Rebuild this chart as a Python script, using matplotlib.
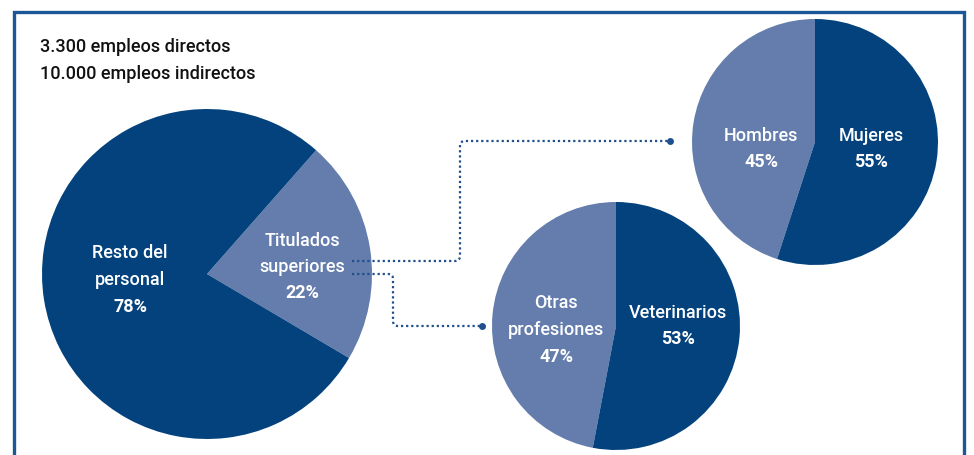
import matplotlib.pyplot as plt
from matplotlib.path import Path
from matplotlib.patches import PathPatch

W, H = 974, 456

dark = '#03427d'
light = '#647dac'
border = '#1b5796'
line_col = '#1f4f8c'

plt.rcParams['font.family'] = ['Roboto', 'DejaVu Sans']

header = ['3.300 empleos directos', '10.000 empleos indirectos']

main_labels = ['Titulados\nsuperiores', 'Resto del\npersonal']
main_values = [22, 78]

prof_labels = ['Otras\nprofesiones', 'Veterinarios']
prof_values = [47, 53]

sex_labels = ['Hombres', 'Mujeres']
sex_values = [45, 55]

fig = plt.figure(figsize=(W / 100, H / 100), dpi=100)
ax = fig.add_axes([0, 0, 1, 1])


def Y(y):
    # image row -> data y
    return H - y


ax.pie(main_values, colors=[light, dark], startangle=-30.6, center=(207, Y(275)),
       radius=165, wedgeprops=dict(linewidth=0), frame=True)
ax.pie(prof_values, colors=[light, dark], startangle=90, center=(616, Y(327)),
       radius=124, wedgeprops=dict(linewidth=0), frame=True)
ax.pie(sex_values, colors=[light, dark], startangle=90, center=(815, Y(143)),
       radius=123, wedgeprops=dict(linewidth=0), frame=True)
ax.set_xlim(0, W)
ax.set_ylim(0, H)
ax.set_aspect('equal')
ax.axis('off')

# border (open at the bottom)
ax.plot([14, 14, 964, 964], [Y(460), Y(13), Y(13), Y(460)], color=border, lw=2.4,
        solid_joinstyle='miter', clip_on=False)


def label(x, yc, name, value, size=13, gap=26.5):
    lines = name.split('\n')
    n = len(lines) + 1
    for i, t in enumerate(lines):
        ax.text(x, Y(yc + (i - (n - 1) / 2) * gap), t, color='white', ha='center',
                va='center', fontsize=size, fontweight='medium')
    ax.text(x, Y(yc + ((n - 1) / 2) * gap), f'{value}%', color='white', ha='center',
            va='center', fontsize=size, fontweight='bold')


label(130, 280, main_labels[1], main_values[1])
label(302, 267, main_labels[0], main_values[0])
label(556, 330, prof_labels[0], prof_values[0])
label(678, 326, prof_labels[1], prof_values[1])
label(761, 149, sex_labels[0], sex_values[0])
label(871, 149, sex_labels[1], sex_values[1])

for i, t in enumerate(header):
    ax.text(40, Y(47 + i * 27), t, color='#111111', ha='left', va='center',
            fontsize=13, fontweight='medium')


def connector(pts, r=5):
    # polyline with small rounded corners
    verts = [pts[0]]
    codes = [Path.MOVETO]
    for k in range(1, len(pts) - 1):
        (x0, y0), (x1, y1), (x2, y2) = pts[k - 1], pts[k], pts[k + 1]
        d0 = abs(x1 - x0) + abs(y1 - y0)
        d1 = abs(x2 - x1) + abs(y2 - y1)
        verts += [(x1 - (x1 - x0) / d0 * r, y1 - (y1 - y0) / d0 * r), (x1, y1),
                  (x1 + (x2 - x1) / d1 * r, y1 + (y2 - y1) / d1 * r)]
        codes += [Path.LINETO, Path.CURVE3, Path.CURVE3]
    verts.append(pts[-1])
    codes.append(Path.LINETO)
    ax.add_patch(PathPatch(Path(verts, codes), fill=False, edgecolor=line_col, lw=1.6,
                           linestyle=(0, (1, 1.3))))
    ax.plot(*pts[-1], 'o', color=line_col, ms=5, mec='none')


connector([(352, Y(262)), (460, Y(262)), (460, Y(142)), (670, Y(142))])
connector([(352, Y(275)), (393, Y(275)), (393, Y(327)), (482, Y(327))])

fig.savefig('out.png', dpi=100, facecolor='white')
